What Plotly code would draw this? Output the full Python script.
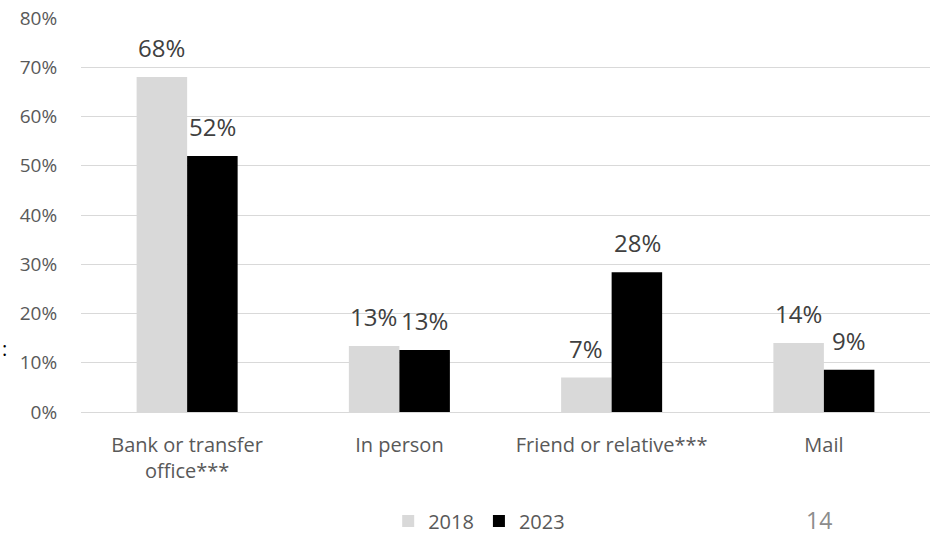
import plotly.graph_objects as go

# Channels and shares by survey year
categories = ["Bank or transfer<br>office***", "In person", "Friend or relative***", "Mail"]
share_2018 = [0.68, 0.134, 0.070, 0.140]
share_2023 = [0.52, 0.126, 0.284, 0.086]
series_names = ["2018", "2023"]
series_colors = ["#d9d9d9", "#000000"]
y_ticks = [0, 0.1, 0.2, 0.3, 0.4, 0.5, 0.6, 0.7, 0.8]
y_tick_labels = [f"{v:.0%}" for v in y_ticks]
page_number = "14"

FONT = "Open Sans"

fig = go.Figure()
for name, vals, color in zip(series_names, [share_2018, share_2023], series_colors):
    fig.add_trace(go.Bar(
        x=categories, y=vals, name=name,
        marker=dict(color=color, line=dict(width=0)),
        hoverinfo="skip",
    ))

# Value labels above each bar
annotations = []
for vals, shift in [(share_2018, -25.5), (share_2023, 25.5)]:
    for cat, v in zip(categories, vals):
        annotations.append(dict(
            x=cat, y=v, xref="x", yref="y", text=f"{v:.0%}",
            showarrow=False, xanchor="center", yanchor="bottom",
            xshift=shift, yshift=11,
            font=dict(family=FONT, size=24, color="#404040"),
        ))

# Slide page number (paper coords relative to the plot area)
annotations.append(dict(
    x=(819 - 81) / 849, y=(412 - 520) / 394, xref="paper", yref="paper",
    text=page_number, showarrow=False, xanchor="center", yanchor="middle",
    font=dict(family=FONT, size=23, color="#8c8c8c"),
))
# Slide text fragment at the left edge
annotations.append(dict(
    x=-81 / 849, y=0.16, xref="paper", yref="paper", text=":",
    showarrow=False, xanchor="left", yanchor="middle",
    font=dict(family=FONT, size=20, color="#000000"),
))

fig.update_layout(
    width=932, height=535,
    margin=dict(l=81, r=2, t=18, b=123, autoexpand=False),
    paper_bgcolor="white", plot_bgcolor="white",
    barmode="group", bargap=0.524, bargroupgap=0,
    font=dict(family=FONT, color="#595959"),
    showlegend=True,
    legend=dict(
        orientation="h", x=0.469, y=0.026, yref="container",
        xanchor="center", yanchor="middle",
        font=dict(family=FONT, size=20, color="#595959"),
        itemwidth=30, traceorder="normal",
    ),
    annotations=annotations,
    xaxis=dict(
        showgrid=False, showline=False, zeroline=False, automargin=False,
        ticks="outside", ticklen=15, tickcolor="rgba(0,0,0,0)",
        tickfont=dict(family=FONT, size=20, color="#595959"),
    ),
    yaxis=dict(
        range=[0, 0.8], tickvals=y_ticks, ticktext=y_tick_labels,
        automargin=False,
        showgrid=True, gridcolor="#d9d9d9", gridwidth=1.3,
        zeroline=True, zerolinecolor="#d9d9d9", zerolinewidth=1.3,
        showline=False,
        ticks="outside", ticklen=19, tickcolor="rgba(0,0,0,0)",
        tickfont=dict(family=FONT, size=19, color="#595959"),
    ),
)

fig.write_html("out.html")
